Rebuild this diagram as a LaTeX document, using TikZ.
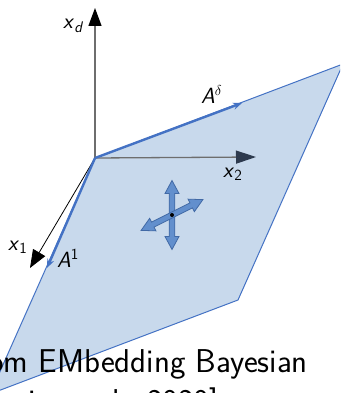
\documentclass[tikz,border=0pt]{standalone}
\usetikzlibrary{arrows.meta}
\definecolor{planefill}{RGB}{200,217,236}
\definecolor{planeedge}{RGB}{68,114,196}
\definecolor{crossfill}{RGB}{98,143,205}
\definecolor{crossedge}{RGB}{65,105,165}
\definecolor{axisgray}{RGB}{110,110,110}
\definecolor{headslate}{RGB}{45,58,78}
\begin{document}
\begin{tikzpicture}[
    x=1pt, y=-1pt,
    every node/.style={inner sep=0pt, anchor=base west, font=\fontsize{22}{26}\selectfont\sffamily},
    axis/.style={axisgray, line width=1.3pt},
    vec/.style={planeedge, line width=2.4pt, -{Stealth[length=9pt,width=7pt]}},
    plane/.style={fill=planefill, draw=planeedge, line width=1pt},
    crossarrow/.style={fill=crossfill, draw=crossedge, line width=0.8pt},
    caption/.style={font=\fontsize{33}{36}\selectfont\sffamily}
  ]
  \useasboundingbox (0,0) rectangle (340,393);
  \clip (0,0) rectangle (340,393);

  % corners of the plane and ends of the axes
  \coordinate (O) at (95,158);
  \coordinate (P1) at (343,64);
  \coordinate (P2) at (238,300);
  \coordinate (P3) at (-10,394);
  \coordinate (xd) at (95,8);
  \coordinate (x2) at (256,157);
  \coordinate (x1) at (30,268);
  \coordinate (Ad) at (242,103);
  \coordinate (A1) at (47,268);
  \coordinate (c) at (172,215);

  \draw[plane] (O) -- (P1) -- (P2) -- (P3) -- cycle;

  % axes
  \draw[axis, -{Triangle[length=18pt,width=13pt,black]}] (O) -- (xd);
  \draw[axis, -{Triangle[length=20pt,width=13pt,headslate]}] (O) -- (x2);
  \draw[black, line width=0.8pt, -{Triangle[length=18pt,width=14pt]}] (O) -- (x1);

  % spanning vectors
  \draw[vec] (O) -- (Ad);
  \draw[vec] (O) -- (A1);

  % moves inside the plane
  \foreach \ang in {90,26.5}
    \draw[crossarrow, shift={(c)}, rotate=\ang]
      (-34.5,0) -- (-21.5,7) -- (-21.5,2.8) -- (21.5,2.8) -- (21.5,7) -- (34.5,0)
      -- (21.5,-7) -- (21.5,-2.8) -- (-21.5,-2.8) -- (-21.5,-7) -- cycle;
  \fill (c) circle (2pt);

  \node (lxd) at (63,29) {\textsl{x}\textsubscript{\textsl{d}}};
  \node (lx2) at (223,177) {\textsl{x}\textsubscript{2}};
  \node (lx1) at (8,250) {\textsl{x}\textsubscript{1}};
  \node (lAd) at (201,103) {\textsl{A}$^{\delta}$};
  \node (lA1) at (57,267) {\textsl{A}\textsuperscript{1}};

  \node[caption] (cap1) at (-12,372) {om EMbedding Bayesian};
  \node[caption] (cap2) at (28,412) {in et al., 2020]};
\end{tikzpicture}
\end{document}
